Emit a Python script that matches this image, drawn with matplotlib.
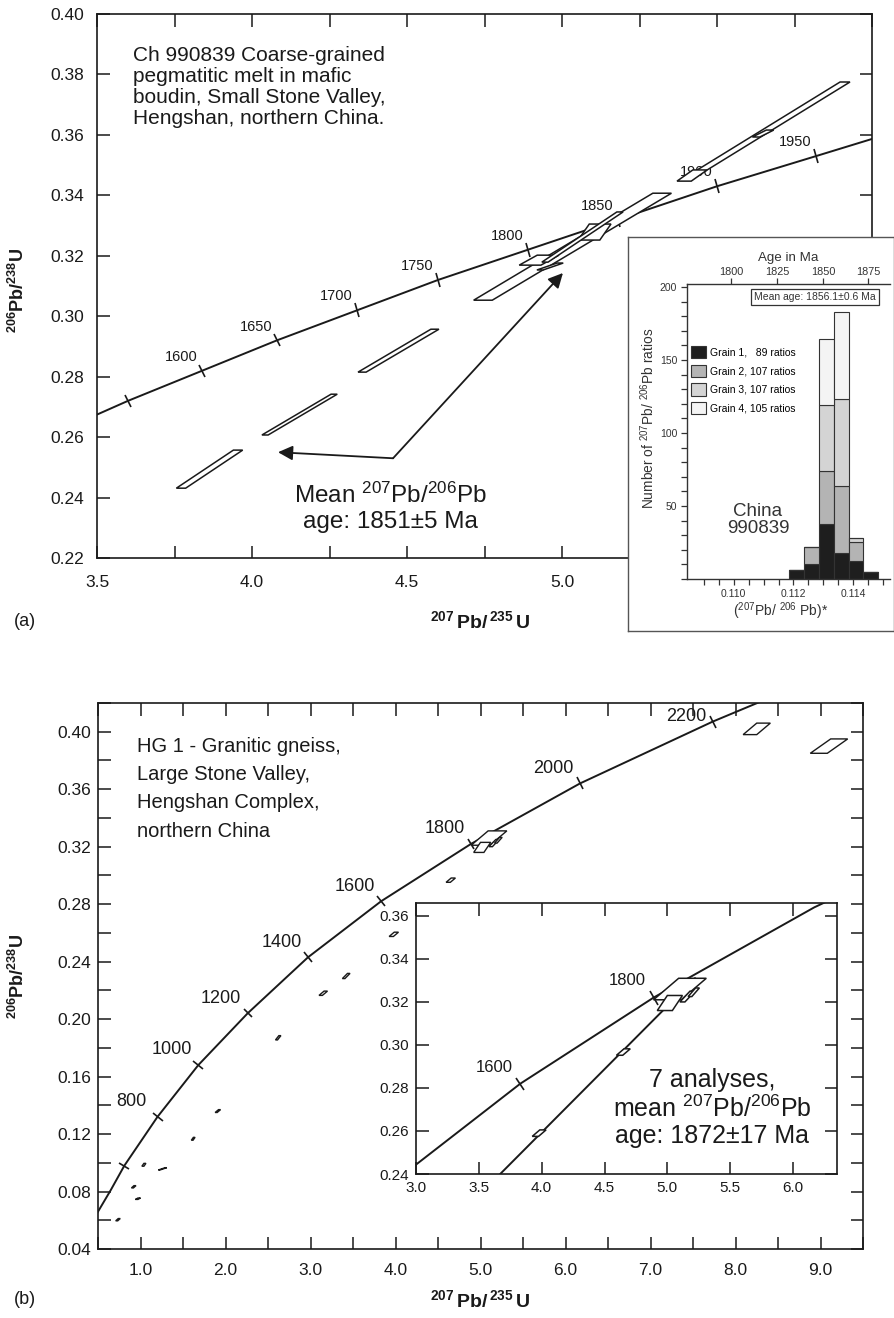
import numpy as np
import matplotlib
matplotlib.use("Agg")
import matplotlib.pyplot as plt
from matplotlib.patches import Polygon
from matplotlib.markers import MarkerStyle
from matplotlib.transforms import Affine2D
from matplotlib.ticker import MultipleLocator, FixedLocator, FormatStrFormatter

plt.rcParams["font.family"] = ["Liberation Sans", "DejaVu Sans"]
plt.rcParams["mathtext.fontset"] = "custom"
plt.rcParams["mathtext.rm"] = "Liberation Sans"
plt.rcParams["mathtext.it"] = "Liberation Sans:italic"
plt.rcParams["mathtext.bf"] = "Liberation Sans:bold"

INK = "#1a1a1a"
GREY = "#333333"
W, H = 894, 1318

# =====================================================
# DATA — panel (a)
# =====================================================
conc_a_age = [1500, 1550, 1600, 1650, 1700, 1750, 1800, 1850, 1900, 1950, 2000]
conc_a_x = [3.38, 3.60, 3.84, 4.08, 4.34, 4.60, 4.89, 5.18, 5.50, 5.82, 6.17]
conc_a_y = [0.262, 0.272, 0.282, 0.292, 0.302, 0.312, 0.322, 0.332, 0.343, 0.353, 0.364]
conc_a_labelled = [1600, 1650, 1700, 1750, 1800, 1850, 1900, 1950]

# error shapes: centre x, centre y, half-length dx, dy, half-width in x
ell_a_x = [3.863, 4.1535, 4.4725, 5.034, 5.105, 4.926, 5.066, 4.9615, 5.6565, 5.4195, 5.6485]
ell_a_y = [0.2494, 0.26745, 0.2886, 0.323, 0.32785, 0.31855, 0.3262, 0.31645, 0.3613, 0.34655, 0.36045]
ell_a_dx = [0.092, 0.1115, 0.1175, 0.289, 0.018, 0.029, 0.121, 0.0325, 0.2565, 0.0255, 0.0225]
ell_a_dy = [0.0063, 0.00675, 0.0071, 0.0177, 0.00265, 0.00165, 0.0083, 0.00115, 0.0162, 0.00185, 0.00115]
ell_a_w = [0.015, 0.010, 0.013, 0.030, 0.035, 0.035, 0.010, 0.010, 0.016, 0.023, 0.012]

# mean-age arrow: apex and the two tips
arrow_apex = (4.455, 0.253)
arrow_tips = [(4.084, 0.255), (5.003, 0.3143)]

# histogram inset
hist_edges = [0.11185, 0.11235, 0.11285, 0.11335, 0.11385, 0.11435]
hist_width = 0.0005
grain1 = [6, 10, 38, 18, 12, 5]
grain2 = [0, 12, 36, 46, 13, 0]
grain3 = [0, 0, 45, 59, 3, 0]
grain4 = [0, 0, 45, 60, 0, 0]
grain_labels = ["Grain 1,   89 ratios", "Grain 2, 107 ratios",
                "Grain 3, 107 ratios", "Grain 4, 105 ratios"]
grain_colors = ["#1e1e1e", "#b4b4b4", "#d4d4d4", "#f4f4f4"]
age_ticks = [1800, 1825, 1850, 1875]
age_tick_pos = [0.1099, 0.11145, 0.1130, 0.1145]

# =====================================================
# DATA — panel (b)
# =====================================================
conc_b_age = [400, 500, 600, 800, 1000, 1200, 1400, 1600, 1800, 2000, 2200, 2300]
conc_b_x = [0.48, 0.65, 0.81, 1.20, 1.68, 2.26, 2.97, 3.83, 4.89, 6.17, 7.73, 8.62]
conc_b_y = [0.064, 0.081, 0.098, 0.132, 0.168, 0.204, 0.243, 0.282, 0.322, 0.364, 0.407, 0.429]
conc_b_ticked = [600, 800, 1000, 1200, 1400, 1600, 1800, 2000, 2200]
conc_b_labelled = [800, 1000, 1200, 1400, 1600, 1800, 2000, 2200]
inset_b_labelled = [1600, 1800]

ell_b_x = [0.735, 0.97, 0.92, 1.04, 1.26, 1.62, 1.91, 2.62, 3.15, 3.42, 3.98, 4.65,
           5.10, 5.02, 5.16, 5.21, 8.25, 9.10]
ell_b_y = [0.0604, 0.075, 0.0833, 0.0986, 0.0958, 0.1167, 0.136, 0.187, 0.218, 0.230,
           0.2590, 0.2967, 0.326, 0.3195, 0.3225, 0.3245, 0.402, 0.390]
ell_b_dx = [0.015, 0.015, 0.015, 0.012, 0.04, 0.012, 0.02, 0.02, 0.03, 0.03, 0.03, 0.03,
            0.10, 0.04, 0.04, 0.03, 0.08, 0.12]
ell_b_dy = [0.0008, 0.0005, 0.0008, 0.0010, 0.0008, 0.0010, 0.0010, 0.0015, 0.0015, 0.0018,
            0.0015, 0.0015, 0.005, 0.0035, 0.0025, 0.002, 0.004, 0.005]
ell_b_w = [0.012, 0.015, 0.012, 0.012, 0.010, 0.010, 0.012, 0.012, 0.020, 0.015, 0.025,
           0.025, 0.11, 0.06, 0.02, 0.015, 0.08, 0.10]

discordia_x = [3.67, 5.22]
discordia_y = [0.240, 0.331]


# =====================================================
# HELPERS
# =====================================================
def draw_errors(ax, xs, ys, dxs, dys, ws, fill="white", lw=1.1):
    for x, y, dx, dy, w in zip(xs, ys, dxs, dys, ws):
        verts = [(x - dx - w, y - dy), (x - dx + w, y - dy),
                 (x + dx + w, y + dy), (x + dx - w, y + dy)]
        ax.add_patch(Polygon(verts, closed=True, facecolor=fill,
                             edgecolor=INK, lw=lw, zorder=3))


def concordia_ticks(ax, ages, xs, ys, ticked, labelled, size, fs, offset, special=None):
    special = special or {}
    pts = ax.transData.transform(np.column_stack([xs, ys]))
    d = np.gradient(pts, axis=0)
    for age, x, y, (dx, dy) in zip(ages, xs, ys, d):
        if age not in ticked:
            continue
        ang = np.degrees(np.arctan2(dy, dx))
        m = MarkerStyle("|", transform=Affine2D().rotate_deg(ang))
        ax.plot([x], [y], marker=m, ms=size, mew=1.2, color=INK, zorder=2)
        if age in labelled:
            ax.annotate(str(age), (x, y), xytext=special.get(age, offset),
                        textcoords="offset points", ha="center", va="center",
                        fontsize=fs, color=INK, annotation_clip=True)


def style_axes(ax, length, pad_x, pad_y, size):
    for s in ax.spines.values():
        s.set_linewidth(1.2)
        s.set_color(INK)
    ax.tick_params(which="both", direction="in", top=True, right=True,
                   length=length, width=1.1, colors=INK, labelsize=size)
    ax.tick_params(axis="x", which="both", pad=pad_x)
    ax.tick_params(axis="y", which="both", pad=pad_y)


fig = plt.figure(figsize=(W / 100, H / 100), dpi=100)

# =====================================================
# PANEL (a)
# =====================================================
ax_a = fig.add_axes([97 / W, 1 - 558 / H, 775 / W, 544 / H])
ax_a.set_xlim(3.5, 6.0)
ax_a.set_ylim(0.22, 0.40)
ax_a.xaxis.set_major_locator(MultipleLocator(0.5))
ax_a.xaxis.set_minor_locator(MultipleLocator(0.25))
ax_a.yaxis.set_major_locator(MultipleLocator(0.02))
ax_a.xaxis.set_major_formatter(FormatStrFormatter("%.1f"))
ax_a.yaxis.set_major_formatter(FormatStrFormatter("%.2f"))
style_axes(ax_a, 9, 12, 9, 12.5)

ax_a.plot(conc_a_x, conc_a_y, color=INK, lw=1.4, zorder=1)
concordia_ticks(ax_a, conc_a_age, conc_a_x, conc_a_y, conc_a_age[1:],
                conc_a_labelled, 10, 10.5, (-15, 10))

draw_errors(ax_a, ell_a_x, ell_a_y, ell_a_dx, ell_a_dy, ell_a_w)

for tip in arrow_tips:
    ax_a.annotate("", xy=tip, xytext=arrow_apex,
                  arrowprops=dict(arrowstyle="-|>", color=INK, lw=1.3,
                                  mutation_scale=22, shrinkA=0, shrinkB=0))

ax_a.text(0.0465, 0.866, "Ch 990839 Coarse-grained\npegmatitic melt in mafic\n"
          "boudin, Small Stone Valley,\nHengshan, northern China.",
          transform=ax_a.transAxes, fontsize=15, linespacing=1.12,
          ha="left", va="center", color=INK)
ax_a.text(0.378, 0.092, "Mean $^{207}$Pb/$^{206}$Pb\nage: 1851\u00b15 Ma",
          transform=ax_a.transAxes, fontsize=17.5, linespacing=1.15,
          ha="center", va="center", multialignment="center", color=INK)

fig.text(480 / W, 1 - 621 / H, r"$\mathbf{^{207}\,Pb/\,^{235}\,U}$",
         ha="center", va="center", fontsize=14, color=INK)
fig.text(18 / W, 1 - 290 / H, r"$\mathbf{^{206}Pb/^{238}U}$", rotation=90,
         ha="center", va="center", fontsize=13, color=INK)
fig.text(14 / W, 1 - 622 / H, "(a)", ha="left", va="center", fontsize=13, color=INK)

# inset frame
ax_f = fig.add_axes([628 / W, 1 - 631 / H, 266 / W, 394 / H], zorder=5)
ax_f.set_xticks([])
ax_f.set_yticks([])
for s in ax_f.spines.values():
    s.set_color("#555555")
    s.set_linewidth(1.0)

# histogram
ax_h = fig.add_axes([687 / W, 1 - 579 / H, 203 / W, 295 / H], zorder=6)
ax_h.patch.set_visible(False)
bottom = np.zeros(len(hist_edges))
bars = []
for counts, col in zip([grain1, grain2, grain3, grain4], grain_colors):
    b = ax_h.bar(hist_edges, counts, width=hist_width, bottom=bottom, align="edge",
                 color=col, edgecolor=GREY, lw=0.8)
    bars.append(b)
    bottom = bottom + np.array(counts)
ax_h.set_xlim(0.10843, 0.11524)
ax_h.set_ylim(0, 202)
ax_h.yaxis.set_major_locator(FixedLocator([50, 100, 150, 200]))
ax_h.yaxis.set_minor_locator(MultipleLocator(10))
ax_h.xaxis.set_major_locator(FixedLocator([0.110, 0.112, 0.114]))
ax_h.xaxis.set_minor_locator(FixedLocator(np.arange(0.109, 0.1150, 0.0005)))
ax_h.xaxis.set_major_formatter(FormatStrFormatter("%.3f"))
ax_h.spines["right"].set_visible(False)
for s in ["left", "bottom", "top"]:
    ax_h.spines[s].set_color(GREY)
    ax_h.spines[s].set_linewidth(1.0)
ax_h.tick_params(which="both", direction="out", length=4, width=0.9,
                 colors=GREY, labelsize=7.5, pad=3)

ax_t = ax_h.twiny()
ax_t.patch.set_visible(False)
ax_t.set_xlim(ax_h.get_xlim())
ax_t.set_xticks(age_tick_pos)
ax_t.set_xticklabels([str(a) for a in age_ticks])
ax_t.tick_params(direction="out", length=4, width=0.9, colors=GREY,
                 labelsize=7.8, pad=1)
for s in ax_t.spines.values():
    s.set_visible(False)
ax_t.set_xlabel("Age in Ma", fontsize=9.6, color=GREY, labelpad=4)

ax_h.legend([b[0] for b in bars], grain_labels, loc="upper left",
            bbox_to_anchor=(0.02, 0.79), frameon=False, fontsize=7.5,
            handlelength=1.45, handleheight=1.45, labelspacing=0.6,
            handletextpad=0.35, borderpad=0, borderaxespad=0)
ax_h.text(0.63, 0.956, "Mean age: 1856.1\u00b10.6 Ma", transform=ax_h.transAxes,
          fontsize=7.5, ha="center", va="center", color=GREY,
          bbox=dict(boxstyle="square,pad=0.3", fc="white", ec=GREY, lw=0.9))
ax_h.text(0.35, 0.2, "China\n990839", transform=ax_h.transAxes, fontsize=13.5,
          ha="center", va="center", linespacing=1.0, color=GREY)
fig.text(648 / W, 1 - 418 / H, "Number of $^{207}$Pb/ $^{206}$Pb ratios", rotation=90,
         ha="center", va="center", fontsize=9.9, color=GREY, zorder=7)
fig.text(781 / W, 1 - 611 / H, "($^{207}$Pb/ $^{206}$ Pb)*", ha="center", va="center",
         fontsize=10, color=GREY, zorder=7)

# =====================================================
# PANEL (b)
# =====================================================
ax_b = fig.add_axes([98 / W, 1 - 1249 / H, 765 / W, 546 / H])
ax_b.set_xlim(0.5, 9.5)
ax_b.set_ylim(0.04, 0.42)
ax_b.xaxis.set_major_locator(MultipleLocator(1.0))
ax_b.xaxis.set_minor_locator(MultipleLocator(0.5))
ax_b.yaxis.set_major_locator(MultipleLocator(0.04))
ax_b.yaxis.set_minor_locator(MultipleLocator(0.02))
ax_b.xaxis.set_major_formatter(FormatStrFormatter("%.1f"))
ax_b.yaxis.set_major_formatter(FormatStrFormatter("%.2f"))
style_axes(ax_b, 9, 10, 5, 12.5)

ax_b.plot(conc_b_x, conc_b_y, color=INK, lw=1.4, zorder=1)
concordia_ticks(ax_b, conc_b_age, conc_b_x, conc_b_y, conc_b_ticked,
                conc_b_labelled, 9, 13, (-19, 11), special={2200: (-19, 4)})
draw_errors(ax_b, ell_b_x, ell_b_y, ell_b_dx, ell_b_dy, ell_b_w, lw=1.0)

ax_b.text(0.051, 0.843, "HG 1 - Granitic gneiss,\nLarge Stone Valley,\n"
          "Hengshan Complex,\nnorthern China", transform=ax_b.transAxes,
          fontsize=14.5, linespacing=1.62, ha="left", va="center", color=INK)

fig.text(480 / W, 1 - 1300 / H, r"$\mathbf{^{207}\,Pb/\,^{235}\,U}$",
         ha="center", va="center", fontsize=14, color=INK)
fig.text(18 / W, 1 - 976 / H, r"$\mathbf{^{206}Pb/^{238}U}$", rotation=90,
         ha="center", va="center", fontsize=13, color=INK)
fig.text(14 / W, 1 - 1300 / H, "(b)", ha="left", va="center", fontsize=13, color=INK)

# inset of panel (b)
ax_i = fig.add_axes([416 / W, 1 - 1174 / H, 421 / W, 271 / H], zorder=5)
ax_i.set_xlim(3.0, 6.35)
ax_i.set_ylim(0.24, 0.366)
ax_i.xaxis.set_major_locator(MultipleLocator(0.5))
ax_i.yaxis.set_major_locator(MultipleLocator(0.02))
ax_i.xaxis.set_major_formatter(FormatStrFormatter("%.1f"))
ax_i.yaxis.set_major_formatter(FormatStrFormatter("%.2f"))
style_axes(ax_i, 9, 5, 5, 11)
ax_i.plot(conc_b_x, conc_b_y, color=INK, lw=1.4, zorder=1)
ax_i.plot(discordia_x, discordia_y, color=INK, lw=1.4, zorder=1)
concordia_ticks(ax_i, conc_b_age, conc_b_x, conc_b_y, inset_b_labelled,
                inset_b_labelled, 11, 12, (-19, 12))
draw_errors(ax_i, ell_b_x, ell_b_y, ell_b_dx, ell_b_dy, ell_b_w, lw=1.1)
ax_i.text(0.703, 0.243, "7 analyses,\nmean $^{207}$Pb/$^{206}$Pb\nage: 1872\u00b117 Ma",
          transform=ax_i.transAxes, fontsize=18, linespacing=1.15, ha="center",
          va="center", multialignment="center", color=INK)

fig.savefig("out.png", dpi=100)
